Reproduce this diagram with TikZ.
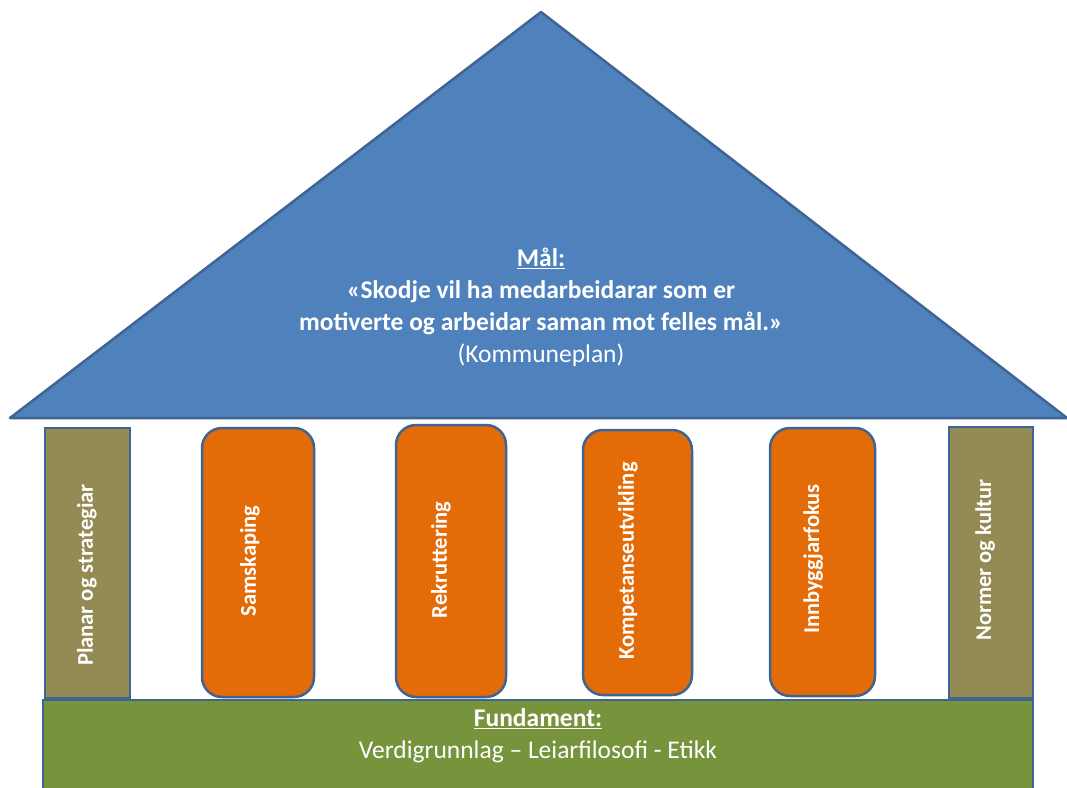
\documentclass[tikz,border=0pt]{standalone}
\usepackage{fontspec}
\setmainfont{Carlito}
\usetikzlibrary{positioning}

\definecolor{roofblue}{HTML}{4F81BD}
\definecolor{edgeblue}{HTML}{3F6393}
\definecolor{pillarorange}{HTML}{E36C09}
\definecolor{pillarolive}{HTML}{948A54}
\definecolor{basegreen}{HTML}{77933C}

\begin{document}
\begin{tikzpicture}[x=1pt, y=-1pt,
		frame/.style={draw=edgeblue, line width=2.5pt},
		side/.style={frame, fill=pillarolive, rectangle},
		pillar/.style={frame, fill=pillarorange, rounded corners=20pt},
		pillartext/.style={rotate=90, text=white, font=\fontsize{22.5}{24}\selectfont\bfseries}]
	\useasboundingbox (0,0) rectangle (1067,787);
	% roof
	\draw[frame, fill=roofblue, line join=round] (10,418) -- (541,12) -- (1067,418) -- cycle;
	\node[text=white, align=center, font=\fontsize{25.5}{32}\selectfont] (goal) at (541,307)
		{\textbf{\underline{Mål:}}\\
		\textbf{«Skodje vil ha medarbeidarar som er}\\
		\textbf{motiverte og arbeidar saman mot felles mål.»}\\
		(Kommuneplan)};
	% foundation
	\draw[frame, fill=basegreen] (43,700) rectangle (1033,800);
	\node[text=white, align=center, font=\fontsize{25.5}{32}\selectfont] (base) at (538,736)
		{\textbf{\underline{Fundament:}}\\
		Verdigrunnlag -- Leiarfilosofi - Etikk};
	% pillars
	\draw[side] (45,428) rectangle (130,698);
	\node[pillartext] (plan) at (87,575) {Planar og strategiar};
	\draw[pillar] (202,428) rectangle (314,697);
	\node[pillartext] (sam) at (250,561) {Samskaping};
	\draw[pillar] (396,425) rectangle (506,697);
	\node[pillartext] (rek) at (441,560) {Rekruttering};
	\draw[pillar] (583,430) rectangle (692,695);
	\node[pillartext] (komp) at (628,561) {Kompetanseutvikling};
	\draw[pillar] (770,428) rectangle (875,696);
	\node[pillartext] (innb) at (813,559) {Innbyggjarfokus};
	\draw[side] (949,427) rectangle (1033,698);
	\node[pillartext] (norm) at (985,560) {Normer og kultur};
\end{tikzpicture}
\end{document}
